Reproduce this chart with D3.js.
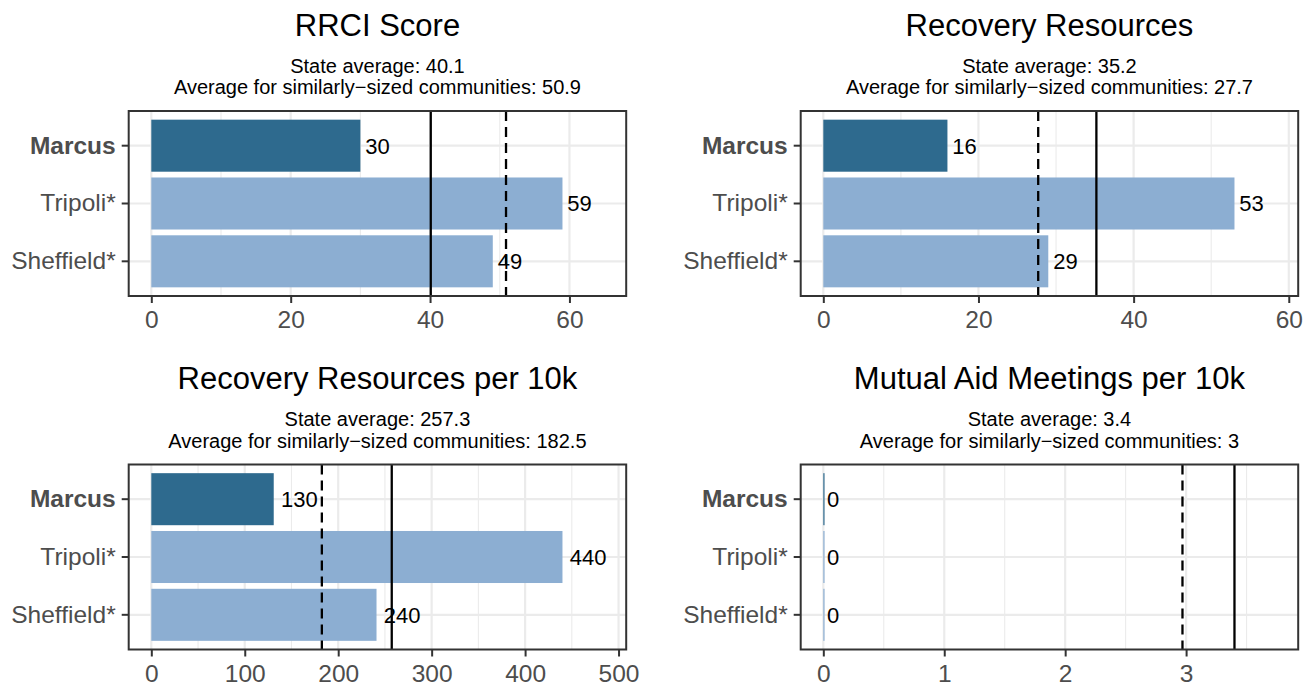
<!DOCTYPE html>
<html>
<head>
<meta charset="utf-8">
<script src="https://cdn.jsdelivr.net/npm/d3@7"></script>
<style>
  body { margin: 0; background: #fff; }
  text { font-family: "Liberation Sans", Arial, sans-serif; }
</style>
</head>
<body>
<svg id="chart" width="1311" height="684"></svg>
<script>
// communities, Marcus is the one being profiled
var towns = ["Marcus", "Tripoli*", "Sheffield*"];
var metrics = ["RRCI Score", "Recovery Resources", "Recovery Resources per 10k", "Mutual Aid Meetings per 10k"];

var rrciValues = [30, 59, 49];
var resourceValues = [16, 53, 29];
var resourcePer10kValues = [131, 440, 241];
var mutualAidValues = [0.01, 0.01, 0.01];

var stateAverages = [40.1, 35.2, 257.3, 3.4];
var similarAverages = [50.9, 27.7, 182.5, 2.97];

var rrciTicks = [0, 20, 40, 60];
var resourceTicks = [0, 20, 40, 60];
var resourcePer10kTicks = [0, 100, 200, 300, 400, 500];
var mutualAidTicks = [0, 1, 2, 3];

var allValues = [rrciValues, resourceValues, resourcePer10kValues, mutualAidValues];
var allTicks = [rrciTicks, resourceTicks, resourcePer10kTicks, mutualAidTicks];

var darkBlue = "#2e6a8e", lightBlue = "#8caed2";
var panelW = 497.5, panelH = 185;
var colX = [128.7, 800.7], rowY = [111, 464.5];

var svg = d3.select("#chart");
svg.append("rect").attr("width", 1311).attr("height", 684).attr("fill", "#fff");

var avgFmt = v => String(+v.toFixed(1));
var labelFmt = v => v < 1 ? String(Math.round(v)) : d3.format(".2r")(v);

metrics.forEach(function(title, i) {
  var px = colX[i % 2], py = rowY[Math.floor(i / 2)];
  var values = allValues[i], ticks = allTicks[i];
  var top = d3.max(values.concat([stateAverages[i], similarAverages[i]])) * 1.1;

  var x = d3.scaleLinear().domain([-0.05 * top, 1.05 * top]).range([px, px + panelW]);
  var y = d3.scaleBand().domain(towns).range([py, py + panelH])
    .paddingInner(0.1).paddingOuter(0.15);

  var g = svg.append("g");

  // titles
  g.append("text").attr("x", px + panelW / 2).attr("y", py - 75.5)
    .attr("text-anchor", "middle").attr("font-size", 31).attr("fill", "#000")
    .text(title);
  g.append("text").attr("x", px + panelW / 2).attr("y", py - 38.3)
    .attr("text-anchor", "middle").attr("font-size", 20).attr("fill", "#000")
    .text("State average: " + avgFmt(stateAverages[i]));
  g.append("text").attr("x", px + panelW / 2).attr("y", py - 16.8)
    .attr("text-anchor", "middle").attr("font-size", 20).attr("fill", "#000")
    .text("Average for similarly\u2212sized communities: " + avgFmt(similarAverages[i]));

  // grid
  var step = ticks[1] - ticks[0];
  var minor = ticks.map(t => t + step / 2).concat([ticks[0] - step / 2])
    .filter(t => x(t) > px && x(t) < px + panelW);
  g.selectAll(".minor").data(minor).enter().append("line")
    .attr("x1", d => x(d)).attr("x2", d => x(d))
    .attr("y1", py).attr("y2", py + panelH)
    .attr("stroke", "#ebebeb").attr("stroke-width", 1.1);
  g.selectAll(".majorx").data(ticks).enter().append("line")
    .attr("x1", d => x(d)).attr("x2", d => x(d))
    .attr("y1", py).attr("y2", py + panelH)
    .attr("stroke", "#ebebeb").attr("stroke-width", 2.2);
  g.selectAll(".majory").data(towns).enter().append("line")
    .attr("x1", px).attr("x2", px + panelW)
    .attr("y1", d => y(d) + y.bandwidth() / 2).attr("y2", d => y(d) + y.bandwidth() / 2)
    .attr("stroke", "#ebebeb").attr("stroke-width", 2.2);

  // bars
  g.selectAll(".bar").data(values).enter().append("rect")
    .attr("x", x(0))
    .attr("y", (d, j) => y(towns[j]))
    .attr("width", d => x(d) - x(0))
    .attr("height", y.bandwidth())
    .attr("fill", (d, j) => j === 0 ? darkBlue : lightBlue);

  // value labels, nudged right by a fifth of their width like hjust = -0.2
  g.selectAll(".lbl").data(values).enter().append("text")
    .attr("y", (d, j) => y(towns[j]) + y.bandwidth() / 2)
    .attr("dy", "0.36em").attr("font-size", 22).attr("fill", "#000")
    .text(d => labelFmt(d))
    .attr("x", function(d) { return x(d) + 0.2 * this.getComputedTextLength(); });

  // reference lines
  g.append("line").attr("x1", x(stateAverages[i])).attr("x2", x(stateAverages[i]))
    .attr("y1", py).attr("y2", py + panelH)
    .attr("stroke", "#000").attr("stroke-width", 2.3);
  g.append("line").attr("x1", x(similarAverages[i])).attr("x2", x(similarAverages[i]))
    .attr("y1", py).attr("y2", py + panelH)
    .attr("stroke", "#000").attr("stroke-width", 2.3)
    .attr("stroke-dasharray", "10,6");

  // panel border
  g.append("rect").attr("x", px).attr("y", py).attr("width", panelW).attr("height", panelH)
    .attr("fill", "none").attr("stroke", "#333").attr("stroke-width", 2);

  // x axis
  var xAxis = d3.axisBottom(x).tickValues(ticks).tickSize(7).tickPadding(8).tickFormat(d3.format("d"));
  var xa = g.append("g").attr("transform", "translate(0," + (py + panelH) + ")").call(xAxis);
  xa.select(".domain").remove();
  xa.selectAll(".tick line").attr("stroke", "#333").attr("stroke-width", 2);
  xa.selectAll(".tick text").attr("font-size", 24.5).attr("fill", "#4d4d4d")
    .attr("font-family", "Liberation Sans, Arial, sans-serif");

  // y axis
  var yAxis = d3.axisLeft(y).tickSize(7).tickPadding(6);
  var ya = g.append("g").attr("transform", "translate(" + px + ",0)").call(yAxis);
  ya.select(".domain").remove();
  ya.selectAll(".tick line").attr("stroke", "#333").attr("stroke-width", 2);
  ya.selectAll(".tick text").attr("font-size", 24.5).attr("fill", "#4d4d4d")
    .attr("font-family", "Liberation Sans, Arial, sans-serif")
    .attr("font-weight", d => d === "Marcus" ? "bold" : "normal");
});
</script>
</body>
</html>
